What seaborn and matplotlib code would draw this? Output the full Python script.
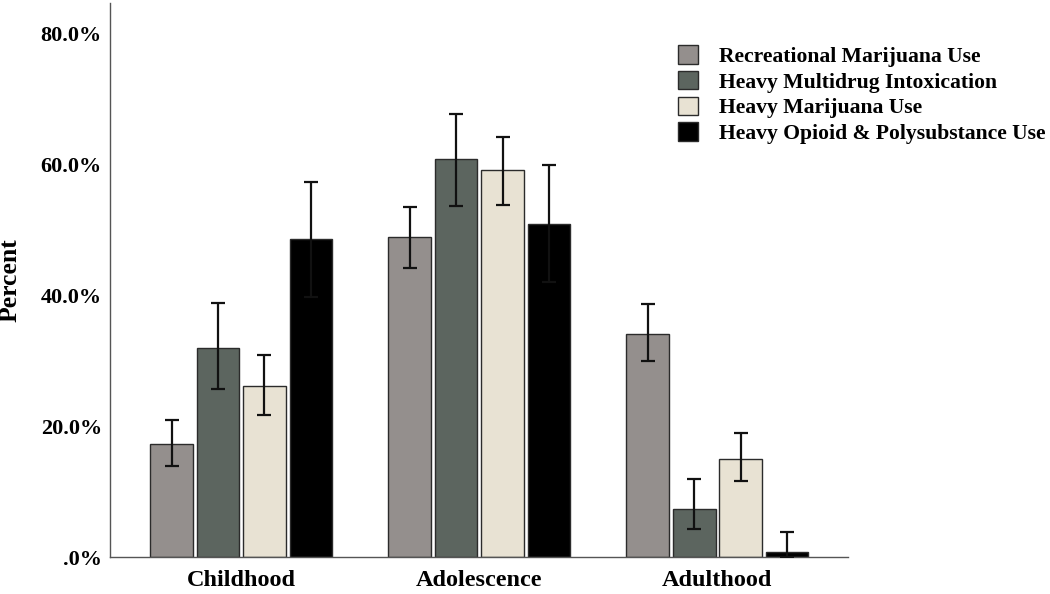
import numpy as np
import pandas as pd
import matplotlib
matplotlib.use("Agg")
import matplotlib.pyplot as plt
import seaborn as sns

# values
periods = ['Childhood', 'Adolescence', 'Adulthood']
groups = ['Recreational Marijuana Use', 'Heavy Multidrug Intoxication',
          'Heavy Marijuana Use', 'Heavy Opioid & Polysubstance Use']
colors = ['#958f8c', '#5a665f', '#ebe3cf', '#000000']

recreational = [17.2, 48.9, 34.1]
multidrug = [32.0, 60.8, 7.4]
heavy_mj = [26.1, 59.1, 15.0]
opioid = [48.5, 50.9, 0.8]

recreational_lo = [13.9, 44.2, 29.9]
recreational_hi = [20.9, 53.5, 38.6]
multidrug_lo = [25.6, 53.6, 4.3]
multidrug_hi = [38.8, 67.6, 11.9]
heavy_mj_lo = [21.7, 53.8, 11.6]
heavy_mj_hi = [30.8, 64.1, 19.0]
opioid_lo = [39.7, 42.0, 0.0]
opioid_hi = [57.3, 59.8, 3.9]

yticks = [0, 20, 40, 60, 80]
ytick_labels = ['.0%', '20.0%', '40.0%', '60.0%', '80.0%']

values = [recreational, multidrug, heavy_mj, opioid]
lows = [recreational_lo, multidrug_lo, heavy_mj_lo, opioid_lo]
highs = [recreational_hi, multidrug_hi, heavy_mj_hi, opioid_hi]

df = pd.DataFrame({
    'period': periods * len(groups),
    'group': np.repeat(groups, len(periods)),
    'pct': np.concatenate(values),
    'lo': np.concatenate(lows),
    'hi': np.concatenate(highs),
})

sns.set_style('white')
plt.rcParams['font.family'] = ['Liberation Serif', 'DejaVu Serif']
plt.rcParams['font.weight'] = 'bold'
plt.rcParams['text.color'] = 'black'
plt.rcParams['xtick.color'] = 'black'
plt.rcParams['ytick.color'] = 'black'
plt.rcParams['axes.labelcolor'] = 'black'

fig = plt.figure(figsize=(10.5, 5.94), dpi=100)
ax = fig.add_axes([0.105, 0.062, 0.703, 0.933])

sns.barplot(data=df, x='period', y='pct', hue='group', order=periods,
            hue_order=groups, palette=colors, errorbar=None, width=0.78,
            gap=0.08, edgecolor='#2b2b2b', linewidth=1.0, ax=ax)

# custom confidence intervals from the bars seaborn drew
for i, g in enumerate(groups):
    cont = ax.containers[i]
    sub = df[df['group'] == g].set_index('period').loc[periods]
    xs = [p.get_x() + p.get_width() / 2 for p in cont.patches]
    yerr = [sub['pct'] - sub['lo'], sub['hi'] - sub['pct']]
    ax.errorbar(xs, sub['pct'], yerr=yerr, fmt='none', ecolor='#111111',
                elinewidth=1.6, capsize=5, capthick=1.6, zorder=5)

ax.set_xlim(-0.55, 2.55)
ax.set_ylim(0, 84.6)
ax.set_yticks(yticks)
ax.set_yticklabels(ytick_labels, fontsize=16, fontweight='bold')
ax.set_xticks(range(len(periods)))
ax.set_xticklabels(periods, fontsize=17.5, fontweight='bold')
ax.tick_params(axis='y', length=0, pad=6)
ax.tick_params(axis='x', length=0, pad=9)
ax.set_xlabel('')
ax.set_ylabel('Percent', fontsize=18.5, fontweight='bold', labelpad=14)

sns.despine(ax=ax)
for s in ['left', 'bottom']:
    ax.spines[s].set_color('#555555')
    ax.spines[s].set_linewidth(1.0)

ax.legend(loc='upper left', bbox_to_anchor=(0.6355, 0.942),
          bbox_transform=fig.transFigure, frameon=False,
          prop={'size': 15.6, 'weight': 'bold'}, handlelength=0.92,
          handleheight=0.92, handletextpad=0.95, labelspacing=0.19,
          borderpad=0)

fig.savefig('out.png', dpi=100)
